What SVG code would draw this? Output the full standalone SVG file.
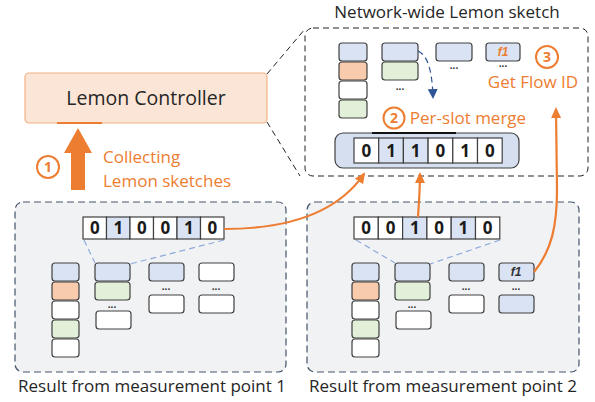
<svg xmlns="http://www.w3.org/2000/svg" width="595" height="402" viewBox="0 0 595 402">
<defs>
<style>
.t{font-family:"Open Sans","Liberation Sans",sans-serif;}
.lbl{font-size:17px;fill:#262626;}
.cell{stroke:#404040;stroke-width:1.2;}
.w{fill:#ffffff;}
.b{fill:#dae3f3;}
.g{fill:#e2f0d9;}
.o{fill:#f8cbad;}
.bit{font-family:"Open Sans","Liberation Sans",sans-serif;font-weight:bold;font-size:17px;fill:#1a1a1a;text-anchor:middle;}
.dots{font-family:"Liberation Sans",sans-serif;font-size:10px;font-weight:bold;fill:#333;text-anchor:middle;}
.num{font-family:"Open Sans","Liberation Sans",sans-serif;font-weight:bold;font-size:14px;fill:#ed7d31;text-anchor:middle;}
.circ{fill:#ffffff;stroke:#ed7d31;stroke-width:2;}
.conn{fill:none;stroke:#ed7d31;stroke-width:2.2;}
.blued{fill:none;stroke:#8faadc;stroke-width:1.2;stroke-dasharray:6,4;}
</style>
<marker id="ah" markerWidth="11" markerHeight="10" refX="9" refY="5" orient="auto" markerUnits="userSpaceOnUse">
<path d="M0,0 L11,5 L0,10 Z" fill="#ed7d31"/>
</marker>
<marker id="ahb" markerWidth="10" markerHeight="10" refX="8" refY="5" orient="auto" markerUnits="userSpaceOnUse">
<path d="M0,0 L10,5 L0,10 Z" fill="#2f5597"/>
</marker>
</defs>
<rect width="595" height="402" fill="#ffffff"/>

<!-- zoom dashed lines -->
<g id="zoomlines" fill="none" stroke="#222" stroke-width="1" stroke-dasharray="6,4">
<line x1="267" y1="74" x2="305" y2="29"/>
<line x1="267" y1="122" x2="300" y2="176"/>
</g>

<!-- Network-wide sketch -->
<g id="network-sketch">
<rect x="305" y="28" width="283" height="148" rx="8" fill="#ffffff" stroke="#222" stroke-width="1" stroke-dasharray="6,4"/>
<text class="t lbl" x="447" y="18" text-anchor="middle">Network-wide Lemon sketch</text>
<rect class="cell b" x="339" y="43" width="28" height="18" rx="3"/>
<rect class="cell o" x="339" y="62" width="28" height="18" rx="3"/>
<rect class="cell w" x="339" y="81" width="28" height="18" rx="3"/>
<rect class="cell g" x="339" y="100" width="28" height="18" rx="3"/>
<rect class="cell b" x="382" y="43" width="36" height="18" rx="3"/>
<rect class="cell g" x="382" y="62" width="36" height="18" rx="3"/>
<text class="dots" x="400" y="90">...</text>
<rect class="cell b" x="436" y="43" width="36" height="18" rx="3"/>
<text class="dots" x="454" y="69">...</text>
<rect class="cell b" x="486" y="43" width="34" height="18" rx="3"/>
<text x="503" y="56" text-anchor="middle" font-family="Liberation Sans,sans-serif" font-style="italic" font-weight="bold" font-size="12" fill="#ed7d31">f1</text>
<text class="dots" x="503" y="67">...</text>
<path d="M418,51 C428,56 432,70 433,97" fill="none" stroke="#2f5597" stroke-width="1.2" stroke-dasharray="6,4" marker-end="url(#ahb)"/>
</g>

<g id="step3">
<circle class="circ" cx="547" cy="57" r="11"/>
<text class="num" x="547" y="62">3</text>
<text class="t" x="533" y="88" font-size="17" fill="#ed7d31" text-anchor="middle">Get Flow ID</text>
</g>

<g id="step2">
<circle class="circ" cx="394" cy="118" r="10.5"/>
<text class="num" x="394" y="123">2</text>
<text class="t" x="468" y="124" font-size="17" fill="#ed7d31" text-anchor="middle">Per-slot merge</text>
</g>

<g id="merged-array">
<rect x="335" y="133" width="184" height="35" rx="8" fill="#d6dff0" stroke="#404040" stroke-width="1.2"/>
<line x1="372" y1="133" x2="456" y2="133" stroke="#111" stroke-width="2"/>
<rect class="cell w" x="354" y="138" width="24.7" height="25"/>
<rect class="cell b" x="378.7" y="138" width="24.7" height="25"/>
<rect class="cell b" x="403.4" y="138" width="24.7" height="25"/>
<rect class="cell w" x="428.1" y="138" width="24.7" height="25"/>
<rect class="cell w" x="452.8" y="138" width="24.7" height="25"/>
<rect class="cell w" x="477.5" y="138" width="24.7" height="25"/>
<text class="bit" x="366.3" y="157">0</text>
<text class="bit" x="391" y="157">1</text>
<text class="bit" x="415.7" y="157">1</text>
<text class="bit" x="440.4" y="157">0</text>
<text class="bit" x="465.1" y="157">1</text>
<text class="bit" x="489.8" y="157">0</text>
</g>

<!-- Controller -->
<g id="controller">
<rect x="25" y="73" width="242" height="50" rx="4" fill="#fbe5d6" stroke="#f4b183" stroke-width="1.2"/>
<line x1="57" y1="123" x2="102" y2="123" stroke="#ed7d31" stroke-width="2"/>
<text class="t" x="146" y="105" text-anchor="middle" font-size="19.5" fill="#262626">Lemon Controller</text>
</g>

<g id="step1">
<path d="M71,190 L71,153 L64,153 L78,128 L92,153 L85,153 L85,190 Z" fill="#ed7d31"/>
<circle class="circ" cx="48" cy="167" r="11"/>
<text class="num" x="48" y="172">1</text>
<text class="t" x="103" y="163" font-size="17" fill="#ed7d31">Collecting</text>
<text class="t" x="103" y="187" font-size="17" fill="#ed7d31">Lemon sketches</text>
</g>

<!-- Measurement point 1 -->
<g id="mp1">
<rect x="15" y="202" width="271" height="170" rx="8" fill="#f1f2f4" stroke="#44546a" stroke-width="1.2" stroke-dasharray="7,4"/>
<line x1="84" y1="240" x2="95" y2="263" class="blued"/>
<line x1="224" y1="240" x2="130" y2="264" class="blued"/>
<rect class="cell w" x="83" y="217" width="23.5" height="22"/>
<rect class="cell b" x="106.5" y="217" width="23.5" height="22"/>
<rect class="cell w" x="130" y="217" width="23.5" height="22"/>
<rect class="cell w" x="153.5" y="217" width="23.5" height="22"/>
<rect class="cell b" x="177" y="217" width="23.5" height="22"/>
<rect class="cell w" x="200.5" y="217" width="23.5" height="22"/>
<text class="bit" x="94.8" y="234">0</text>
<text class="bit" x="118.3" y="234">1</text>
<text class="bit" x="141.8" y="234">0</text>
<text class="bit" x="165.3" y="234">0</text>
<text class="bit" x="188.8" y="234">1</text>
<text class="bit" x="212.3" y="234">0</text>
<rect class="cell b" x="52" y="263" width="27" height="18" rx="3"/>
<rect class="cell o" x="52" y="282" width="27" height="18" rx="3"/>
<rect class="cell w" x="52" y="301" width="27" height="18" rx="3"/>
<rect class="cell g" x="52" y="320" width="27" height="18" rx="3"/>
<rect class="cell w" x="52" y="339" width="27" height="18" rx="3"/>
<rect class="cell b" x="95" y="263" width="35" height="18" rx="3"/>
<rect class="cell g" x="95" y="282" width="35" height="18" rx="3"/>
<text class="dots" x="112" y="308">...</text>
<rect class="cell w" x="96" y="311" width="35" height="18" rx="3"/>
<rect class="cell b" x="149" y="263" width="35" height="18" rx="3"/>
<text class="dots" x="166" y="290">...</text>
<rect class="cell w" x="149" y="295" width="35" height="18" rx="3"/>
<rect class="cell w" x="199" y="263" width="35" height="18" rx="3"/>
<text class="dots" x="216" y="290">...</text>
<rect class="cell w" x="199" y="295" width="35" height="18" rx="3"/>
<text class="t lbl" x="152" y="392" text-anchor="middle">Result from measurement point 1</text>
</g>

<!-- Measurement point 2 -->
<g id="mp2">
<rect x="307" y="202" width="272" height="170" rx="8" fill="#f1f2f4" stroke="#44546a" stroke-width="1.2" stroke-dasharray="7,4"/>
<line x1="356" y1="240" x2="395" y2="263" class="blued"/>
<line x1="500" y1="240" x2="430" y2="264" class="blued"/>
<rect class="cell w" x="354" y="217" width="24.3" height="22"/>
<rect class="cell w" x="378.3" y="217" width="24.3" height="22"/>
<rect class="cell b" x="402.6" y="217" width="24.3" height="22"/>
<rect class="cell w" x="426.9" y="217" width="24.3" height="22"/>
<rect class="cell b" x="451.2" y="217" width="24.3" height="22"/>
<rect class="cell w" x="475.5" y="217" width="24.3" height="22"/>
<text class="bit" x="366.2" y="234">0</text>
<text class="bit" x="390.5" y="234">0</text>
<text class="bit" x="414.8" y="234">1</text>
<text class="bit" x="439.1" y="234">0</text>
<text class="bit" x="463.4" y="234">1</text>
<text class="bit" x="487.7" y="234">0</text>
<rect class="cell b" x="352" y="263" width="27" height="18" rx="3"/>
<rect class="cell o" x="352" y="282" width="27" height="18" rx="3"/>
<rect class="cell w" x="352" y="301" width="27" height="18" rx="3"/>
<rect class="cell g" x="352" y="320" width="27" height="18" rx="3"/>
<rect class="cell w" x="352" y="339" width="27" height="18" rx="3"/>
<rect class="cell b" x="395" y="263" width="35" height="18" rx="3"/>
<rect class="cell g" x="395" y="282" width="35" height="18" rx="3"/>
<text class="dots" x="412" y="308">...</text>
<rect class="cell w" x="396" y="311" width="35" height="18" rx="3"/>
<rect class="cell b" x="449" y="263" width="35" height="18" rx="3"/>
<text class="dots" x="466" y="290">...</text>
<rect class="cell w" x="449" y="295" width="35" height="18" rx="3"/>
<rect class="cell b" x="499" y="263" width="35" height="18" rx="3"/>
<text x="516" y="276" text-anchor="middle" font-family="Liberation Sans,sans-serif" font-style="italic" font-weight="bold" font-size="12" fill="#333">f1</text>
<text class="dots" x="516" y="290">...</text>
<rect class="cell b" x="499" y="295" width="35" height="18" rx="3"/>
<text class="t lbl" x="443" y="392" text-anchor="middle">Result from measurement point 2</text>
</g>

<!-- connectors -->
<g id="connectors">
<path class="conn" d="M224,229 C290,229 338,212 364,174" marker-end="url(#ah)"/>
<path class="conn" d="M418,217 C419,200 420,190 420,174" marker-end="url(#ah)"/>
<path class="conn" d="M534,272 C552,250 557,225 557,190 L556,109" marker-end="url(#ah)"/>
</g>
</svg>
